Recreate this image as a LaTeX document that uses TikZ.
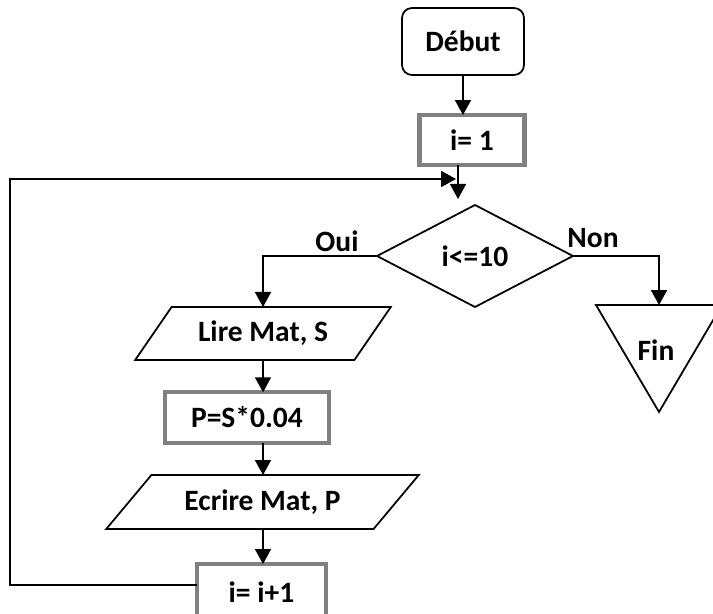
\documentclass[tikz,border=0pt]{standalone}
\usepackage{fontspec}
\setmainfont{Carlito}
\usetikzlibrary{shapes.geometric, arrows.meta, positioning}

\tikzset{
  base/.style={font=\fontsize{16.8}{19}\selectfont\bfseries, line width=1pt, outer sep=0pt, inner sep=1pt},
  startbox/.style={base, draw, rounded corners=0.2cm, minimum width=2.44cm, minimum height=1.34cm},
  procbox/.style={base, draw=black!50, line width=2.4pt},
  iobox/.style={base, draw, trapezium, trapezium stretches=true},
  decision/.style={base, draw, diamond, minimum width=3.92cm, minimum height=2.04cm},
  endbox/.style={base, draw, isosceles triangle, isosceles triangle stretches, shape border rotate=270, minimum width=2.52cm, minimum height=2.14cm},
  arr/.style={-{Triangle[width=0.32cm,length=0.3cm]}, line width=1pt},
  lbl/.style={font=\fontsize{16.8}{19}\selectfont\bfseries},
}

\begin{document}
\begin{tikzpicture}[x=0.02cm, y=-0.02cm]
  \useasboundingbox (0,0) rectangle (713,614);
  \clip (0,0) rectangle (713,614);

  \node[startbox] (debut) at (463,41.5) {Début};
  \node[procbox, minimum width=2.1cm, minimum height=1cm] (init) at (472,140) {i= 1};
  \node[decision] (cond) at (475,256) {i<=10};
  \node[iobox, trapezium left angle=46.7, trapezium right angle=133.3, minimum width=5.12cm, minimum height=1.06cm] (lire) at (263,333.5) {Lire Mat, S};
  \node[procbox, minimum width=3.27cm, minimum height=1.01cm] (calc) at (247,417.5) {P=S*0.04};
  \node[iobox, trapezium left angle=41, trapezium right angle=139, minimum width=6.26cm, minimum height=1.08cm] (ecrire) at (262.5,502) {Ecrire Mat, P};
  \node[procbox, minimum width=2.58cm, minimum height=1.12cm] (incr) at (261.5,592) {i= i+1};
  \node[endbox, anchor=apex] (fin) at (659,412) {};
  \node[lbl] (fintxt) at (656,350) {Fin};

  \node[lbl] (oui) at (337,241) {Oui};
  \node[lbl] (non) at (593,238) {Non};
  \coordinate (back) at (456,179);

  % connectors
  \draw[arr] (debut) -- (debut |- init.north);
  \draw[arr] ([xshift=-0.28cm]init.south) -- ++(0,34);
  \draw[arr] (cond.west) -| (lire.north);
  \draw[arr] (cond.east) -| (fin.north);
  \draw[arr] (lire.south) -- (lire.south |- calc.north);
  \draw[arr] (lire.south |- calc.south) -- (lire.south |- ecrire.north);
  \draw[arr] (lire.south |- ecrire.south) -- (lire.south |- incr.north);
  \draw[arr] ([yshift=0.14cm]incr.west) -| (10,179) -- (back);
\end{tikzpicture}
\end{document}
